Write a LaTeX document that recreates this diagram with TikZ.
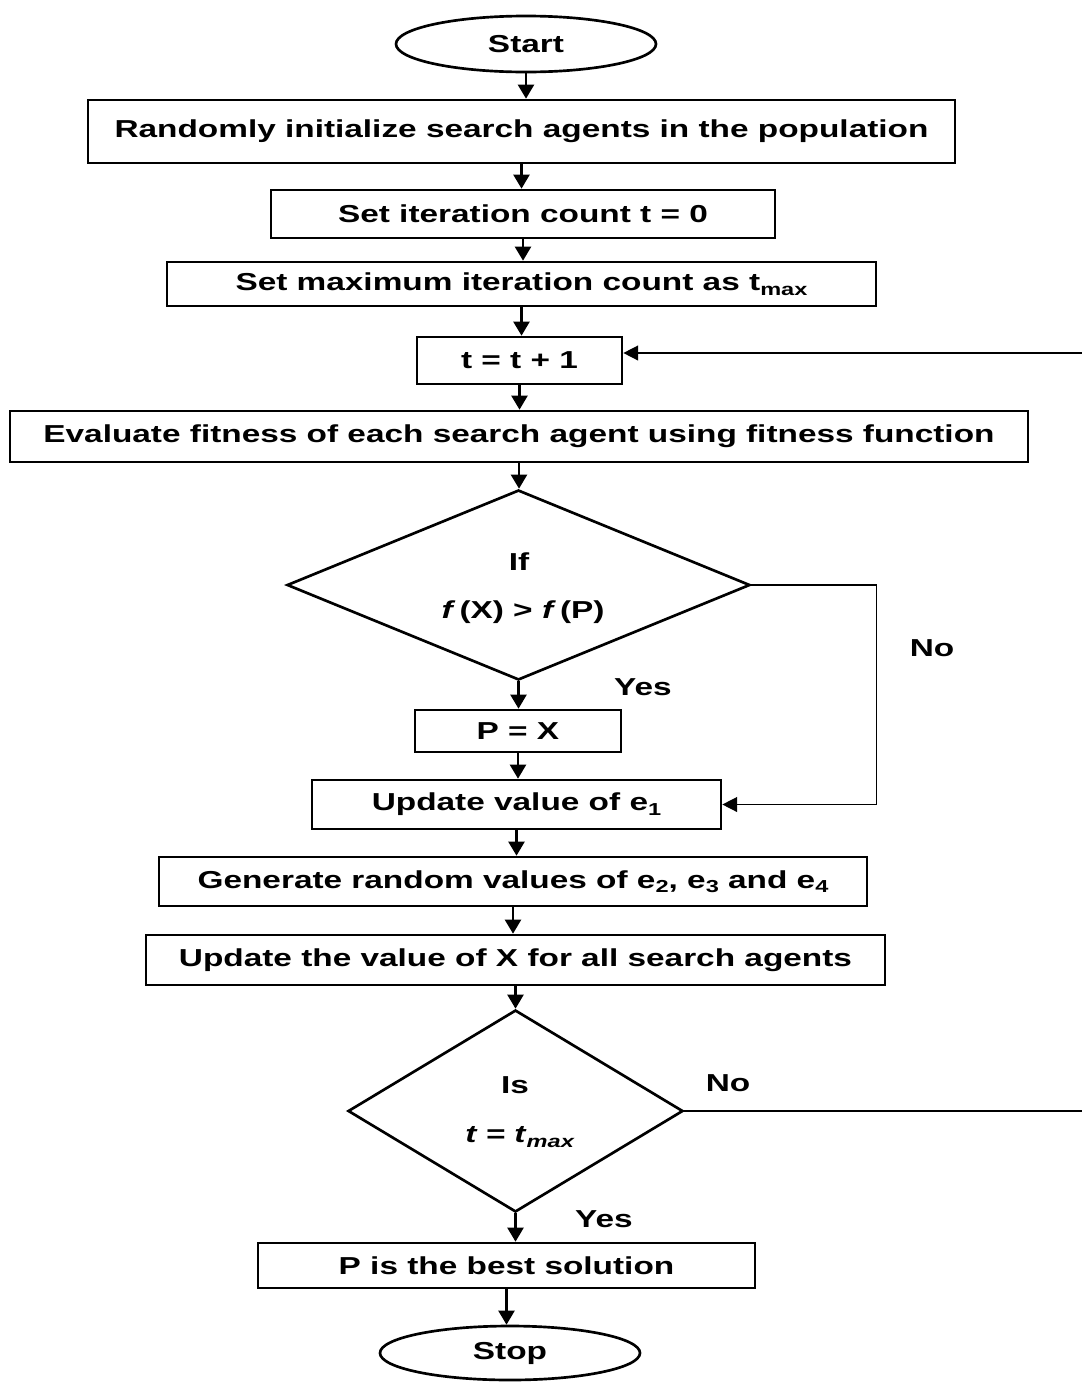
\documentclass[tikz,border=0pt]{standalone}
\usepackage{fontspec}
\setmainfont{Liberation Sans}[FakeStretch=1.36]
\usetikzlibrary{shapes.geometric,arrows.meta,calc}
\newcommand\lowsub[1]{\raisebox{-0.35ex}{\fontsize{13}{13}\selectfont #1}}
\begin{document}
\begin{tikzpicture}[x=0.75pt,y=-0.75pt,
  every node/.style={font=\fontsize{18.4}{22}\selectfont\bfseries},
  sz/.style 2 args={minimum width=#1*0.75pt,minimum height=#2*0.75pt},
  box/.style={draw,line width=2pt,rectangle,inner sep=0pt},
  term/.style={draw,line width=2pt,ellipse,inner sep=0pt},
  dec/.style={draw,line width=2pt,diamond,inner sep=0pt},
  arr/.style={line width=1.8pt,-{Triangle[length=10.5pt,width=12pt]}},
  loopline/.style={line width=1.1pt},
  looparr/.style={line width=1.1pt,-{Triangle[length=11pt,width=11pt]}},
  lbl/.style={inner sep=0pt}
]
\useasboundingbox (0,0) rectangle (1082,1382);

\node[term,sz={260}{56}] (start) at (526,44) {Start};
\node[box,sz={867}{63}] (b1) at (521.5,131.5) {Randomly initialize search agents in the population};
\node[box,sz={504}{48}] (b2) at (523,214) {Set iteration count t = 0};
\node[box,sz={709}{44}] (b3) at (521.5,284) {Set maximum iteration count as t\lowsub{max}};
\node[box,sz={205}{47}] (b4) at (519.5,360.5) {t = t + 1};
\node[box,sz={1018}{51}] (b5) at (519,436.5) {Evaluate fitness of each search agent using fitness function};
\node[dec,sz={463}{190}] (d1) at (518.5,585) {};
\node[lbl] (d1a) at (519,562) {If};
\node[lbl] (d1b) at (523,612) {\textit{f}\,(X) > \textit{f}\,(P)};
\node[box,sz={206}{42}] (b6) at (518,731) {P = X};
\node[box,sz={409}{49}] (b7) at (516.5,804.5) {Update value of e\lowsub{1}};
\node[box,sz={708}{49}] (b8) at (513,881.5) {Generate random values of e\lowsub{2}, e\lowsub{3} and e\lowsub{4}};
\node[box,sz={739}{50}] (b9) at (515.5,960) {Update the value of X for all search agents};
\node[dec,sz={335}{202}] (d2) at (515.5,1111) {};
\node[lbl] (d2a) at (515,1085) {Is};
\node[lbl] (d2b) at (520,1137) {\textit{t = t}\lowsub{\textit{max}}};
\node[box,sz={497}{45}] (b10) at (506.5,1265.5) {P is the best solution};
\node[term,sz={260}{54}] (stop) at (510,1353) {Stop};

\node[lbl] (no1) at (932,648) {No};
\node[lbl] (yes1) at (643,687) {Yes};
\node[lbl] (no2) at (728,1083) {No};
\node[lbl] (yes2) at (604,1219) {Yes};

\coordinate (R1) at (1082,353);
\coordinate (R2) at (1082,1111);

\foreach \a/\b in {start/b1,b1/b2,b2/b3,b3/b4,b4/b5,b5/d1,d1/b6,b6/b7,b7/b8,b8/b9,b9/d2,d2/b10,b10/stop}
  \draw[arr] (\a.south) -- (\a.south |- \b.north);

\draw[looparr] (d1.east) -- ++(125,0) |- (b7.east);
\draw[loopline] (d2.east) -- (R2);
\draw[looparr] (R1) -- (R1 -| b4.east);
\end{tikzpicture}
\end{document}
